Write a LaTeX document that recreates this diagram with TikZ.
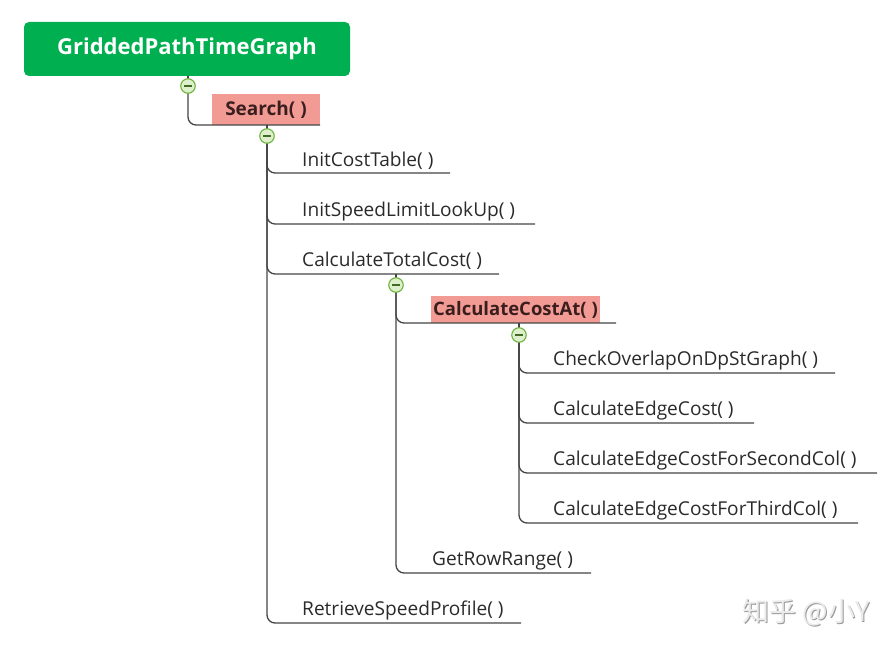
\documentclass[tikz,border=0pt]{standalone}
\usepackage{fontspec}
\setmainfont{Open Sans}
\newfontfamily\cjk{Noto Sans CJK SC}
\definecolor{rootgreen}{HTML}{00B050}
\definecolor{hlpink}{HTML}{F29B94}
\definecolor{linegray}{HTML}{454545}
\definecolor{circfill}{HTML}{DDF0CB}
\definecolor{circline}{HTML}{6DB33F}
\definecolor{txt}{HTML}{2A2A2A}
\definecolor{hltxt}{HTML}{3A1E1E}
\begin{document}
\begin{tikzpicture}[x=1pt,y=-1pt,
  branch/.style={draw=linegray, line width=1.3pt, rounded corners=8pt},
  leaf/.style={anchor=base west, inner sep=0pt, font=\fontsize{19.1}{21}\selectfont, text=txt},
  hlbox/.style={fill=hlpink, inner sep=0pt, font=\bfseries\fontsize{18.5}{20}\selectfont, text=hltxt},
  rootbox/.style={fill=rootgreen, rounded corners=5pt, inner sep=0pt, text=white, font=\bfseries\fontsize{22}{24}\selectfont},
  toggle/.style={circle, draw=circline, fill=circfill, line width=1.1pt, minimum size=14.5pt, inner sep=0pt,
    path picture={\draw[circline!60!black, line width=1.2pt] ([xshift=-3.8pt]path picture bounding box.center) -- ([xshift=3.8pt]path picture bounding box.center);}},
  wm/.style={font=\cjk\fontsize{27}{29}\selectfont, inner sep=0pt}
]
\useasboundingbox (0,0) rectangle (896,650);

% root
\node[rootbox, minimum width=326pt, minimum height=54pt] (root) at (187,49) {GriddedPathTimeGraph};

% Search
\node[hlbox, minimum width=108pt, minimum height=31pt, font=\bfseries\fontsize{19}{20}\selectfont] (search) at (266,109.5) {Search( )};
\coordinate (su) at (320,125);

% Search children text
\node[leaf] (ict) at (302,166) {InitCostTable( )};
\coordinate (ictu) at (450,173);
\node[leaf] (isl) at (302,216) {InitSpeedLimitLookUp( )};
\coordinate (islu) at (535,224);
\node[leaf] (ctc) at (302,266) {CalculateTotalCost( )};
\coordinate (ctcu) at (499,274);
\node[leaf] (rsp) at (302,615) {RetrieveSpeedProfile( )};
\coordinate (rspu) at (521,623);

% CalculateTotalCost children
\node[hlbox, minimum width=169pt, minimum height=27pt] (cca) at (515.5,309.5) {CalculateCostAt( )};
\coordinate (ccau) at (616,323);
\node[leaf] (grr) at (432,565) {GetRowRange( )};
\coordinate (grru) at (591,573);

% CalculateCostAt children
\node[leaf] (cod) at (553,365) {CheckOverlapOnDpStGraph( )};
\coordinate (codu) at (835,373);
\node[leaf] (cec) at (553,415) {CalculateEdgeCost( )};
\coordinate (cecu) at (754,423);
\node[leaf] (cesc) at (553,465) {CalculateEdgeCostForSecondCol( )};
\coordinate (cescu) at (877,473);
\node[leaf] (cetc) at (553,515) {CalculateEdgeCostForThirdCol( )};
\coordinate (cetcu) at (858,523);

% toggles (positions)
\coordinate (t0p) at (188,86);
\coordinate (t1p) at (267,136);
\coordinate (t2p) at (396,285);
\coordinate (t3p) at (519,335);

% stubs
\draw[branch] (root.south -| t0p) -- (t0p);
\draw[branch] (su -| t1p) -- (t1p);
\draw[branch] (ctcu -| t2p) -- (t2p);
\draw[branch] (ccau -| t3p) -- (t3p);

% branches
\draw[branch] (t0p) |- (su);
\draw[branch] (t1p) |- (ictu);
\draw[branch] (t1p) |- (islu);
\draw[branch] (t1p) |- (ctcu);
\draw[branch] (t1p) |- (rspu);
\draw[branch] (t2p) |- (ccau);
\draw[branch] (t2p) |- (grru);
\draw[branch] (t3p) |- (codu);
\draw[branch] (t3p) |- (cecu);
\draw[branch] (t3p) |- (cescu);
\draw[branch] (t3p) |- (cetcu);

% toggle circles on top
\node[toggle] (t0) at (t0p) {};
\node[toggle] (t1) at (t1p) {};
\node[toggle] (t2) at (t2p) {};
\node[toggle] (t3) at (t3p) {};

% watermark
\node[wm, text=black!40] (wms) at (807.2,613.2) {知乎 @小Y};
\node[wm, text=black!8] (wmk) at (806,612) {知乎 @小Y};
\end{tikzpicture}
\end{document}
